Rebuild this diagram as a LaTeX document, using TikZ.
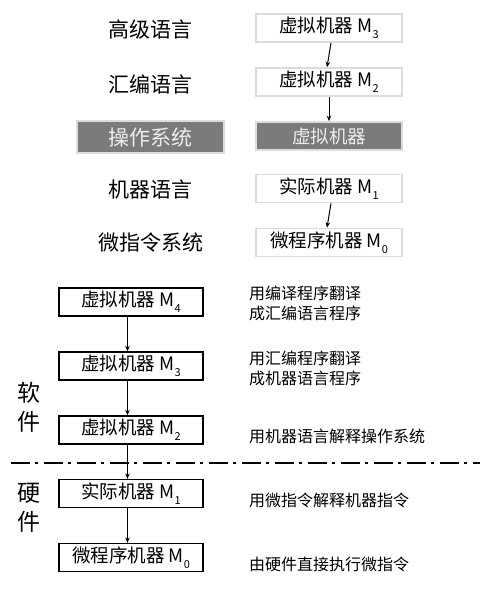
\documentclass[tikz,border=0pt]{standalone}
\usepackage{fontspec}
\setmainfont{Noto Sans CJK SC}
\usepackage{tikz}
\usetikzlibrary{
  arrows.meta,
  positioning,
}
\definecolor{osGray}{HTML}{7B7B7B}
\definecolor{osText}{HTML}{EDEDED}
\definecolor{frameGray}{HTML}{DCDCDC}
\newcommand{\machM}[1]{M\raisebox{-0.3em}{\fontsize{11}{11}\selectfont #1}}
\tikzset{
  levelText/.style={
    inner sep=0pt, font=\fontsize{21}{23}\selectfont,
  },
  lightBox/.style={
    rectangle, draw=frameGray, line width=1.6pt, fill=white,
    minimum width=146pt, minimum height=28pt, inner sep=0pt,
    font=\fontsize{18.5}{20}\selectfont,
  },
  grayBox/.style 2 args={
    rectangle, draw=#1, line width=1.6pt, fill=osGray, text=osText,
    minimum width=#2, minimum height=30pt, inner sep=0pt,
  },
  vmBox/.style={
    rectangle, draw=black, line width=1.3pt, fill=white,
    minimum width=144pt, minimum height=28pt, inner sep=0pt,
    font=\fontsize{18.5}{20}\selectfont,
  },
  noteText/.style={
    anchor=west, align=left, inner sep=0pt,
    font=\fontsize{16}{19.5}\selectfont,
  },
  sideText/.style={
    align=center, inner sep=0pt, font=\fontsize{23}{29}\selectfont,
  },
  arrowThin/.style={
    -{Stealth[length=5.5pt,width=4.5pt]}, line width=1pt, draw=black,
  },
}

\begin{document}
\begin{tikzpicture}[x=1pt, y=-1pt]
\useasboundingbox (0,0) rectangle (487,589);

% Upper part: levels and machines
\node[levelText] (lvHigh) at (150, 30) {高级语言};
\node[levelText] (lvAsm) at (150, 84) {汇编语言};
\node[grayBox={frameGray}{147pt}, minimum height=32pt, font=\fontsize{21}{23}\selectfont] (lvOS) at (150.5, 137) {操作系统};
\node[levelText] (lvMach) at (150, 189) {机器语言};
\node[levelText] (lvMicro) at (151, 243) {微指令系统};

\node[lightBox] (topM3) at (329, 28) {虚拟机器 \machM{3}};
\node[lightBox] (topM2) at (329, 82) {虚拟机器 \machM{2}};
\node[grayBox={frameGray}{146pt}, minimum height=28pt, font=\fontsize{18.5}{20}\selectfont] (topOS) at (329, 136) {虚拟机器};
\node[lightBox] (topM1) at (329, 188.5) {实际机器 \machM{1}};
\node[lightBox] (topM0) at (329, 242.5) {微程序机器 \machM{0}};

\draw[arrowThin] ([xshift=2pt]topM3.south) -- ([xshift=-2pt]topM2.north);
\draw[arrowThin] (topM2.south) -- (topOS.north);
\draw[arrowThin] ([xshift=2pt]topM1.south) -- ([xshift=-2pt]topM0.north);

% Lower part: hierarchy of machines
\node[vmBox] (vmM4) at (131, 302) {虚拟机器 \machM{4}};
\node[vmBox] (vmM3) at (131, 366) {虚拟机器 \machM{3}};
\node[vmBox] (vmM2) at (131, 430) {虚拟机器 \machM{2}};
\node[vmBox] (vmM1) at (131, 493.5) {实际机器 \machM{1}};
\node[vmBox] (vmM0) at (131, 557.5) {微程序机器 \machM{0}};

\foreach \a/\b in {vmM4/vmM3, vmM3/vmM2, vmM2/vmM1, vmM1/vmM0}
  \draw[arrowThin] ([xshift=-3.5pt]\a.south) -- ([xshift=-3.5pt]\b.north);

% Software / hardware boundary
\coordinate (cutL) at (11, 463);
\coordinate (cutR) at (480, 463);
\draw[line width=1.8pt, dash pattern=on 19pt off 5pt on 3pt off 6pt] (cutL) -- (cutR);

\node[sideText] (softLab) at (29, 407) {软\\件};
\node[sideText] (hardLab) at (29, 508) {硬\\件};

% Notes
\node[noteText] (noteM4) at (249, 303.5) {用编译程序翻译\\成汇编语言程序};
\node[noteText] (noteM3) at (249, 368.5) {用汇编程序翻译\\成机器语言程序};
\node[noteText] (noteM2) at (249, 436) {用机器语言解释操作系统};
\node[noteText] (noteM1) at (249, 500) {用微指令解释机器指令};
\node[noteText] (noteM0) at (249, 564) {由硬件直接执行微指令};

\end{tikzpicture}
\end{document}
